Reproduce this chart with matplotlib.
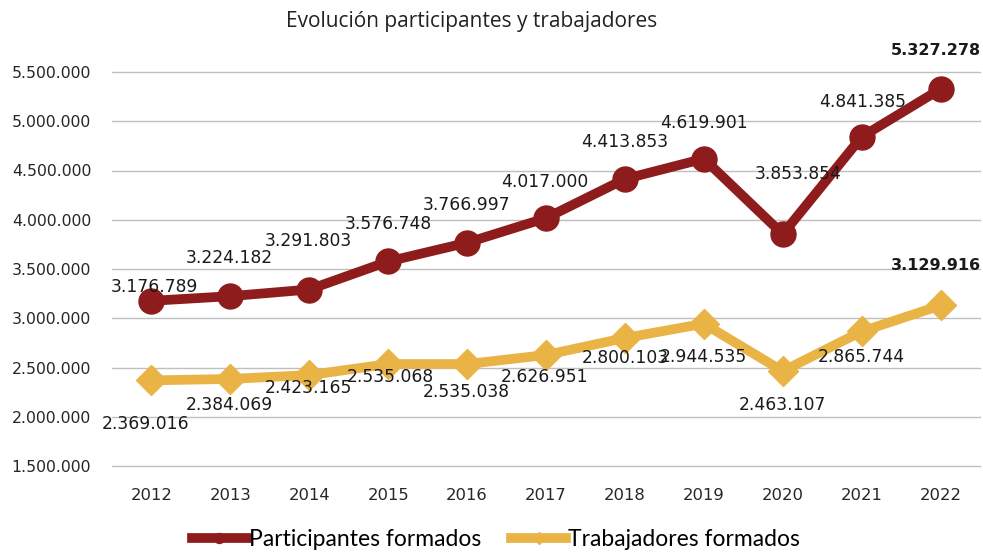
import numpy as np
import matplotlib.pyplot as plt
from matplotlib.ticker import FuncFormatter

plt.rcParams['font.family'] = ['DejaVu Sans']

# data
years = ['2012', '2013', '2014', '2015', '2016', '2017', '2018', '2019', '2020', '2021', '2022']
participantes = [3176789, 3224182, 3291803, 3576748, 3766997, 4017000,
                 4413853, 4619901, 3853854, 4841385, 5327278]
trabajadores = [2369016, 2384069, 2423165, 2535068, 2535038, 2626951,
                2800103, 2944535, 2463107, 2865744, 3129916]

# label offsets (pixels) as placed in the original chart
off_part = [(3, 14), (-1, 38), (-1, 49), (0, 37), (-1, 38), (-1, 36),
            (0, 37), (0, 36), (15, 60), (1, 35), (-5, 39)]
off_trab = [(-6, -44), (-1, -26), (-1, -13), (2, -13), (-1, -28), (-1, -22),
            (0, -20), (0, -33), (0, -34), (0, -26), (-5, 40)]

red = '#8E1C1C'
gold = '#E9B445'


def fmt(v):
    return f'{v:,.0f}'.replace(',', '.')


fig = plt.figure(figsize=(9.83, 5.55), dpi=100)
ax = fig.add_axes([112 / 983, 1 - 466 / 555, (980 - 112) / 983, (466 - 72) / 555])

x = np.arange(len(years))
ax.plot(x, participantes, color=red, lw=7, marker='o', ms=18, zorder=3,
        label='Participantes formados')
ax.plot(x, trabajadores, color=gold, lw=7, marker='D', ms=15, zorder=3,
        label='Trabajadores formados')

last = len(years) - 1
for i in range(len(years)):
    ax.annotate(fmt(participantes[i]), (x[i], participantes[i]),
                xytext=off_part[i], textcoords='offset pixels',
                ha='center', va='center', fontsize=12.3 if i != last else 11.5,
                color='#1a1a1a', fontweight='bold' if i == last else 'normal', zorder=4)
    ax.annotate(fmt(trabajadores[i]), (x[i], trabajadores[i]),
                xytext=off_trab[i], textcoords='offset pixels',
                ha='center', va='center', fontsize=12.3 if i != last else 11.5,
                color='#1a1a1a', fontweight='bold' if i == last else 'normal', zorder=4)

ax.set_xlim(-0.5, len(years) - 0.5)
ax.set_ylim(1500000, 5500000)
ax.set_yticks(np.arange(1500000, 5500001, 500000))
ax.yaxis.set_major_formatter(FuncFormatter(lambda v, p: fmt(v)))
ax.set_xticks(x)
ax.set_xticklabels(years)
ax.tick_params(axis='both', length=0, colors='#262626')
ax.tick_params(axis='y', pad=15, labelsize=11.3)
ax.tick_params(axis='x', pad=16, labelsize=11.8)
ax.grid(axis='y', color='#BFBFBF', lw=1)
for gl in ax.get_ygridlines():
    gl.set_clip_on(False)
ax.set_axisbelow(True)
for s in ax.spines.values():
    s.set_visible(False)

fig.text(472 / 983, 1 - 21 / 555, 'Evolución participantes y trabajadores',
         ha='center', va='center', fontsize=15, fontfamily='Open Sans', color='#222222')

fig.legend(loc='center', bbox_to_anchor=(496 / 983, 1 - 540 / 555), ncol=2,
           frameon=False, prop={'family': 'Lato', 'size': 16.5},
           handlelength=2.4, handletextpad=0.1, columnspacing=1.3,
           markerscale=0.4)

fig.savefig('out.png', dpi=100)
